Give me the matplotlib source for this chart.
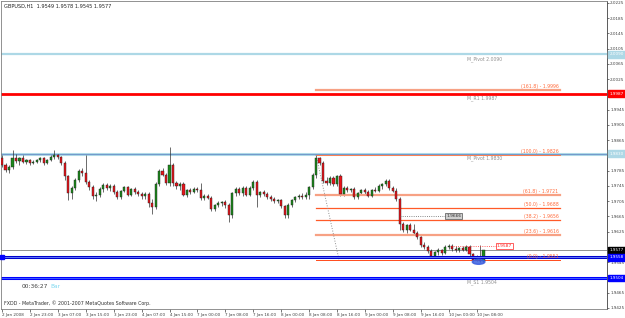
import numpy as np
import matplotlib
matplotlib.use("Agg")
import matplotlib.pyplot as plt
import matplotlib.transforms as mtransforms
from matplotlib.patches import Ellipse

# GBPUSD H1 candles, 2 Jan 2008 .. 10 Jan 2008
opens = [1.9818, 1.9800, 1.9787, 1.9795, 1.9818, 1.9810, 1.9818, 1.9808, 1.9812, 1.9806,
         1.9808, 1.9813, 1.9818, 1.9805, 1.9812, 1.9822, 1.9826, 1.9820, 1.9805, 1.9770,
         1.9727, 1.9740, 1.9760, 1.9785, 1.9778, 1.9755, 1.9742, 1.9718, 1.9722, 1.9738,
         1.9748, 1.9740, 1.9745, 1.9730, 1.9716, 1.9732, 1.9742, 1.9722, 1.9736, 1.9730,
         1.9724, 1.9718, 1.9725, 1.9700, 1.9690, 1.9750, 1.9785, 1.9775, 1.9752, 1.9800,
         1.9752, 1.9745, 1.9750, 1.9722, 1.9735, 1.9730, 1.9738, 1.9734, 1.9713, 1.9720,
         1.9714, 1.9685, 1.9695, 1.9700, 1.9703, 1.9695, 1.9669, 1.9727, 1.9738, 1.9726,
         1.9740, 1.9722, 1.9740, 1.9755, 1.9722, 1.9728, 1.9724, 1.9716, 1.9710, 1.9705,
         1.9708, 1.9692, 1.9668, 1.9695, 1.9708, 1.9716, 1.9720, 1.9716, 1.9722, 1.9742,
         1.9775, 1.9818, 1.9805, 1.9757, 1.9752, 1.9766, 1.9750, 1.9770, 1.9724, 1.9740,
         1.9734, 1.9737, 1.9716, 1.9726, 1.9735, 1.9728, 1.9720, 1.9735, 1.9732, 1.9745,
         1.9750, 1.9758, 1.9740, 1.9732, 1.9710, 1.9645, 1.9630, 1.9642, 1.9630, 1.9622,
         1.9612, 1.9590, 1.9585, 1.9575, 1.9562, 1.9572, 1.9578, 1.9570, 1.9586, 1.9588,
         1.9580, 1.9576, 1.9582, 1.9578, 1.9584, 1.9566, 1.9552, 1.9560, 1.9549]
highs = [1.9826, 1.9805, 1.9800, 1.9839, 1.9830, 1.9822, 1.9825, 1.9815, 1.9815, 1.9812,
         1.9816, 1.9822, 1.9820, 1.9815, 1.9826, 1.9840, 1.9830, 1.9824, 1.9810, 1.9775,
         1.9745, 1.9765, 1.9790, 1.9792, 1.9826, 1.9760, 1.9748, 1.9730, 1.9742, 1.9752,
         1.9752, 1.9750, 1.9750, 1.9735, 1.9735, 1.9745, 1.9746, 1.9740, 1.9742, 1.9734,
         1.9730, 1.9728, 1.9730, 1.9712, 1.9755, 1.9790, 1.9792, 1.9780, 1.9847, 1.9805,
         1.9758, 1.9755, 1.9755, 1.9738, 1.9740, 1.9742, 1.9742, 1.9753, 1.9725, 1.9724,
         1.9718, 1.9698, 1.9705, 1.9706, 1.9708, 1.9700, 1.9730, 1.9742, 1.9742, 1.9745,
         1.9744, 1.9745, 1.9760, 1.9760, 1.9732, 1.9735, 1.9730, 1.9722, 1.9716, 1.9712,
         1.9712, 1.9696, 1.9700, 1.9712, 1.9720, 1.9724, 1.9726, 1.9728, 1.9745, 1.9780,
         1.9826, 1.9822, 1.9810, 1.9768, 1.9770, 1.9770, 1.9775, 1.9776, 1.9745, 1.9745,
         1.9740, 1.9742, 1.9730, 1.9738, 1.9740, 1.9734, 1.9738, 1.9742, 1.9750, 1.9752,
         1.9762, 1.9762, 1.9745, 1.9740, 1.9715, 1.9650, 1.9646, 1.9648, 1.9645, 1.9628,
         1.9615, 1.9598, 1.9590, 1.9580, 1.9575, 1.9582, 1.9580, 1.9590, 1.9592, 1.9592,
         1.9588, 1.9586, 1.9588, 1.9590, 1.9590, 1.9570, 1.9565, 1.9590, 1.9578]
lows = [1.9795, 1.9782, 1.9780, 1.9790, 1.9805, 1.9800, 1.9805, 1.9802, 1.9800, 1.9802,
        1.9804, 1.9808, 1.9800, 1.9802, 1.9810, 1.9815, 1.9816, 1.9800, 1.9760, 1.9708,
        1.9710, 1.9735, 1.9755, 1.9770, 1.9750, 1.9735, 1.9710, 1.9705, 1.9715, 1.9730,
        1.9735, 1.9732, 1.9725, 1.9712, 1.9712, 1.9728, 1.9718, 1.9718, 1.9725, 1.9718,
        1.9712, 1.9712, 1.9690, 1.9672, 1.9685, 1.9745, 1.9770, 1.9748, 1.9745, 1.9745,
        1.9738, 1.9735, 1.9718, 1.9715, 1.9725, 1.9726, 1.9728, 1.9708, 1.9708, 1.9710,
        1.9680, 1.9680, 1.9690, 1.9692, 1.9688, 1.9650, 1.9660, 1.9720, 1.9722, 1.9718,
        1.9718, 1.9718, 1.9735, 1.9690, 1.9715, 1.9718, 1.9710, 1.9705, 1.9700, 1.9700,
        1.9688, 1.9660, 1.9660, 1.9690, 1.9702, 1.9710, 1.9712, 1.9710, 1.9712, 1.9738,
        1.9765, 1.9800, 1.9752, 1.9748, 1.9748, 1.9745, 1.9745, 1.9720, 1.9718, 1.9728,
        1.9728, 1.9712, 1.9712, 1.9722, 1.9724, 1.9716, 1.9716, 1.9728, 1.9728, 1.9738,
        1.9745, 1.9735, 1.9728, 1.9705, 1.9630, 1.9625, 1.9622, 1.9626, 1.9618, 1.9605,
        1.9585, 1.9580, 1.9570, 1.9555, 1.9558, 1.9565, 1.9565, 1.9566, 1.9580, 1.9575,
        1.9572, 1.9572, 1.9575, 1.9574, 1.9562, 1.9548, 1.9548, 1.9545, 1.9545]
closes = [1.9800, 1.9787, 1.9795, 1.9818, 1.9810, 1.9818, 1.9808, 1.9812, 1.9806, 1.9808,
          1.9813, 1.9818, 1.9805, 1.9812, 1.9822, 1.9826, 1.9820, 1.9805, 1.9770, 1.9727,
          1.9740, 1.9760, 1.9785, 1.9778, 1.9755, 1.9742, 1.9718, 1.9722, 1.9738, 1.9748,
          1.9740, 1.9745, 1.9730, 1.9716, 1.9732, 1.9742, 1.9722, 1.9736, 1.9730, 1.9724,
          1.9718, 1.9725, 1.9700, 1.9690, 1.9750, 1.9785, 1.9775, 1.9752, 1.9800, 1.9752,
          1.9745, 1.9750, 1.9722, 1.9735, 1.9730, 1.9738, 1.9734, 1.9713, 1.9720, 1.9714,
          1.9685, 1.9695, 1.9700, 1.9703, 1.9695, 1.9669, 1.9727, 1.9738, 1.9726, 1.9740,
          1.9722, 1.9740, 1.9755, 1.9722, 1.9728, 1.9724, 1.9716, 1.9710, 1.9705, 1.9708,
          1.9692, 1.9668, 1.9695, 1.9708, 1.9716, 1.9720, 1.9716, 1.9722, 1.9742, 1.9775,
          1.9818, 1.9805, 1.9757, 1.9752, 1.9766, 1.9750, 1.9770, 1.9724, 1.9740, 1.9734,
          1.9737, 1.9716, 1.9726, 1.9735, 1.9728, 1.9720, 1.9735, 1.9732, 1.9745, 1.9750,
          1.9758, 1.9740, 1.9732, 1.9710, 1.9645, 1.9630, 1.9642, 1.9630, 1.9622, 1.9612,
          1.9590, 1.9585, 1.9575, 1.9562, 1.9572, 1.9578, 1.9570, 1.9586, 1.9588, 1.9580,
          1.9576, 1.9582, 1.9578, 1.9584, 1.9566, 1.9552, 1.9560, 1.9549, 1.9577]

time_labels = ["2 Jan 2008", "2 Jan 23:00", "3 Jan 07:00", "3 Jan 15:00", "3 Jan 23:00",
               "4 Jan 07:00", "4 Jan 15:00", "7 Jan 00:00", "7 Jan 08:00", "7 Jan 16:00",
               "8 Jan 00:00", "8 Jan 08:00", "8 Jan 16:00", "9 Jan 00:00", "9 Jan 08:00",
               "9 Jan 16:00", "10 Jan 00:00", "10 Jan 08:00"]

pivot_names = ["M_Pivot", "M_R1", "M_Pivot", "M_S1"]
pivot_values = [2.0090, 1.9987, 1.9830, 1.9504]

fib_high = 1.9826
fib_low = 1.9551
fib_ratios = [161.8, 100.0, 61.8, 50.0, 38.2, 23.6, 0.0]

bid = 1.9577
blue_line = 1.9558
note_price = 1.9666
alert_price = 1.9587

yticks = np.round(np.arange(2.0225, 1.9420, -0.004), 4)

# ---------------------------------------------------------------
fig = plt.figure(figsize=(6.25, 3.18), dpi=100)
fig.patch.set_facecolor("white")
ax = fig.add_axes([1 / 625, 9 / 318, 606 / 625, 308 / 318])
ax.set_facecolor("white")
ax.set_xlim(-0.3, 173.4)
ax.set_ylim(1.94223, 2.02302)

n = len(closes)
x = np.arange(n)
o = np.array(opens)
c = np.array(closes)
up = c >= o

ax.vlines(x, lows, highs, color="#303030", lw=0.5, zorder=3)
ax.bar(x, c - o, bottom=o, width=0.6,
       color=np.where(up, "#1c8a1c", "#e8141a"),
       edgecolor="#202020", linewidth=0.3, zorder=4)

# pivot lines
ax.axhline(pivot_values[0], color="#add8e6", lw=1.6, zorder=2)
ax.axhline(pivot_values[1], color="#ff0000", lw=2.0, zorder=2)
ax.axhline(pivot_values[2], color="#add8e6", lw=2.2, zorder=2)
ax.axhline(pivot_values[2] - 0.0002, color="#5b7fc0", lw=0.5, zorder=2)
ax.axhline(pivot_values[3], color="#0000ff", lw=2.2, zorder=2)
ax.axhline(pivot_values[3], color="#4a6cff", lw=0.6, zorder=2)
ax.axhline(bid, color="#808080", lw=0.6, zorder=2)
ax.axhline(blue_line, color="#0000cc", lw=2.2, zorder=5)
ax.axhline(blue_line, color="#6f8cff", lw=0.6, zorder=5)
ax.plot([0], [blue_line], marker="s", ms=2.5, color="#0000ff", mec="#0000ff", zorder=6, clip_on=False)

for name, val in zip(pivot_names, pivot_values):
    ax.annotate(f"{name} {val:.4f}", (133.3, val), xytext=(0, -1.2), textcoords="offset points",
                fontsize=3.3, color="#909090", va="top", ha="left", zorder=6)

# fibonacci retracement
fib_end = 159.9
fib_styles = {161.8: ("#f7a184", 1.6), 100.0: ("#ff7f50", 0.7), 61.8: ("#f7a184", 1.6),
              50.0: ("#ff5a28", 0.9), 38.2: ("#ff5a28", 0.9), 23.6: ("#f7a184", 1.6),
              0.0: ("#ff4a1a", 0.7)}
for r in fib_ratios:
    lvl = fib_low + r / 100 * (fib_high - fib_low)
    col, lw = fib_styles[r]
    ax.plot([90, fib_end], [lvl, lvl], color=col, lw=lw, zorder=3)
    ax.annotate(f"({r:.1f}) - {lvl:.4f}", (fib_end, lvl), xytext=(-1, 0.6), textcoords="offset points",
                fontsize=3.3, color="#ff6a3a", ha="right", va="bottom", zorder=6)
ax.plot([90, 96.6], [fib_high, fib_low], color="#909090", lw=0.7, ls=":", zorder=3)

# price notes
ax.plot([114, 127.2], [note_price, note_price], color="#606060", lw=0.6, ls=":", zorder=5)
ax.text(127.3, note_price, f"{note_price:.4f}", fontsize=3.2, color="#303030", va="center", ha="left",
        bbox=dict(boxstyle="square,pad=0.25", fc="#d0d0d0", ec="#505050", lw=0.5), zorder=6)
ax.plot([128.7, 141.7], [alert_price, alert_price], color="#ff3030", lw=0.6, ls=":", zorder=5)
ax.text(141.8, alert_price, f"{alert_price:.4f}", fontsize=3.2, color="#ff2020", va="center", ha="left",
        bbox=dict(boxstyle="square,pad=0.25", fc="white", ec="#ff2020", lw=0.5), zorder=6)
ax.add_patch(Ellipse((136.6, 1.9546), 3.6, 0.0013, color="#3a5fe0", alpha=0.85, zorder=6))

# axes; tick labels hidden where a coloured price box sits on top
label_prices = [pivot_values[0], pivot_values[1], pivot_values[2], bid, blue_line, pivot_values[3]]
ylabels = []
for v in yticks:
    near = any(abs(v - p) < 0.0011 for p in label_prices)
    ylabels.append("" if near else f"{v:.4f}")
ax.yaxis.tick_right()
ax.set_yticks(yticks)
ax.set_yticklabels(ylabels)
ax.set_xticks(np.arange(0, 8 * len(time_labels), 8))
ax.set_xticklabels(time_labels, ha="left")
ax.tick_params(axis="y", labelsize=3.0, colors="#404040", length=1.5, width=0.5, pad=0.8)
ax.tick_params(axis="x", labelsize=3.0, colors="#404040", length=2, width=0.5, pad=1.2)
for side, sp in ax.spines.items():
    sp.set_color("#808080")
    sp.set_linewidth(0.6)
ax.spines["right"].set_color("#404040")

trans = mtransforms.blended_transform_factory(ax.transAxes, ax.transData)
labels = [(pivot_values[0], "#add8e6", "white"), (pivot_values[1], "#ff0000", "white"),
          (pivot_values[2], "#add8e6", "white"), (bid, "#000000", "white"),
          (blue_line, "#0000ff", "white"), (pivot_values[3], "#0000ff", "white")]
for val, bg, fg in labels:
    ax.text(1.004, val, f"{val:.4f}", transform=trans, fontsize=3.0, color=fg, va="center", ha="left",
            bbox=dict(boxstyle="square,pad=0.3", fc=bg, ec=bg), zorder=10, clip_on=False)

# header / footer texts
fig.text(4 / 625, 1 - 6 / 318, "GBPUSD,H1  1.9549 1.9578 1.9545 1.9577", fontsize=3.6, color="#202020",
         va="center", ha="left")
ax.text(21 / 606, 1 - 286 / 308, "00:36:27", transform=ax.transAxes, fontsize=4.2, color="#404040",
        va="center", ha="left")
ax.text(49 / 606, 1 - 286 / 308, "Bar", transform=ax.transAxes, fontsize=4.2, color="#7fd8f0",
        va="center", ha="left")
ax.text(3 / 606, 1 - 305 / 308, "FXDD - MetaTrader, \u00a9 2001-2007 MetaQuotes Software Corp.",
        transform=ax.transAxes, fontsize=3.4, color="#303030", va="bottom", ha="left")

fig.savefig("out.png", dpi=100)
